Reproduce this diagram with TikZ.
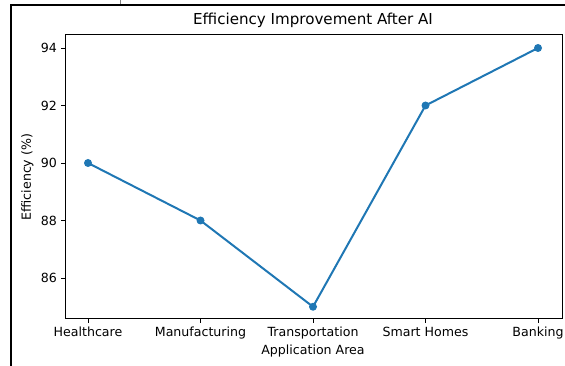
\documentclass[tikz,border=0pt]{standalone}
\usepackage{fontspec}
\setmainfont{DejaVu Sans}
\usepackage{tikz}
\usepackage{xcolor}
\definecolor{plotblue}{HTML}{1F77B4}

\begin{document}
\begin{tikzpicture}[x=1pt,y=-1pt,
  ticklabel/.style={font=\fontsize{12.6}{14}\selectfont,inner sep=3.5pt},
  axislabel/.style={font=\fontsize{12.6}{14}\selectfont,inner sep=0pt}]
 \useasboundingbox (0,0) rectangle (565,366);
 \pgfmathsetmacro{\dx}{112.5}
  \pgfmathsetmacro{\dy}{28.75}
  \draw[line width=2.4pt] (10.8,366) -- (10.8,5.2) -- (565,5.2);
  \draw[gray,line width=0.6pt] (120,0) -- (120,4);
  \draw[line width=1pt] (65,35) rectangle (562,318.5);

  \foreach \v in {86,88,...,94}{
   \draw[line width=0.9pt] (65,{48+(94-\v)*\dy}) -- ++(-4.2,0) node[left,ticklabel] (ytick\v) {\v};
}
  \foreach \name [count=\i from 0] in {Healthcare,Manufacturing,Transportation,Smart Homes,Banking}{
   \draw[line width=0.9pt] ({88+\i*\dx},318.5) -- ++(0,4.2) node[below,ticklabel] (xtick\i) {\name};
}
\node[axislabel] (title) at (313,20) {\fontsize{15.1}{17}\selectfont Efficiency Improvement After AI};
\node[axislabel] (xlabel) at (313,351.5) {Application Area};
\node[axislabel,rotate=90] (ylabel) at (27.5,177) {Efficiency (\%)};

  \foreach \v [count=\i from 0] in {90,88,85,92,94}
   \coordinate (p\i) at ({88+\i*\dx},{48+(94-\v)*\dy});
\draw[plotblue,line width=2pt,line join=round] (p0) -- (p1) -- (p2) -- (p3) -- (p4);
  \foreach \i in {0,...,4}
   \fill[plotblue] (p\i) circle (4);
\end{tikzpicture}
\end{document}
